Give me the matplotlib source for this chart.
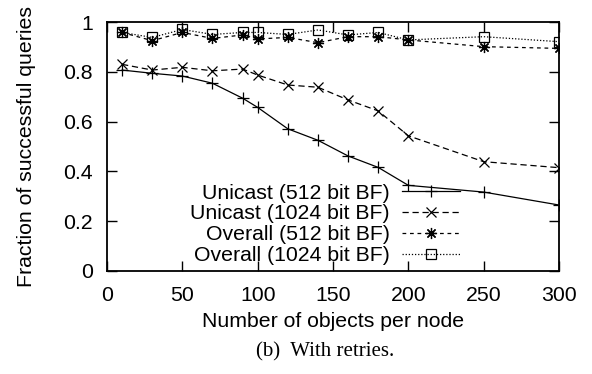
import matplotlib
matplotlib.use("Agg")
import matplotlib.pyplot as plt

# objects per node
objects = [10, 30, 50, 70, 90, 100, 120, 140, 160, 180, 200, 250, 300]

# fraction of successful queries
unicast_512 = [0.807, 0.794, 0.783, 0.754, 0.694, 0.657, 0.571, 0.525, 0.462, 0.416, 0.344, 0.317, 0.265]
unicast_1024 = [0.830, 0.807, 0.818, 0.804, 0.811, 0.787, 0.747, 0.738, 0.687, 0.643, 0.543, 0.439, 0.415]
overall_512 = [0.958, 0.925, 0.958, 0.934, 0.948, 0.932, 0.938, 0.917, 0.941, 0.941, 0.928, 0.901, 0.894]
overall_1024 = [0.958, 0.938, 0.970, 0.950, 0.958, 0.958, 0.950, 0.968, 0.948, 0.958, 0.928, 0.941, 0.921]

labels = ["Unicast (512 bit BF)", "Unicast (1024 bit BF)",
          "Overall (512 bit BF)", "Overall (1024 bit BF)"]
xticks = [0, 50, 100, 150, 200, 250, 300]
yticks = [0, 0.2, 0.4, 0.6, 0.8, 1]
yticklabels = ["0", "0.2", "0.4", "0.6", "0.8", "1"]

plt.rcParams['font.family'] = ['Liberation Sans', 'DejaVu Sans']
fs = 15.3

fig = plt.figure(figsize=(5.92, 3.74), dpi=100)
ax = fig.add_axes([107/592, 103/374, 452/592, 249/374])

ax.plot(objects, unicast_512, color="black", lw=0.9, ls="-",
        marker="+", ms=9, mew=0.9, label=labels[0])
ax.plot(objects, unicast_1024, color="black", lw=0.9, ls=(0, (5, 3)),
        marker="x", ms=7, mew=0.9, label=labels[1])
ax.plot(objects, overall_512, color="black", lw=0.9, ls=(0, (3, 3)),
        marker=(8, 2, 0), ms=8, mew=0.9, label=labels[2])
ax.plot(objects, overall_1024, color="black", lw=0.9, ls=(0, (1, 1.5)),
        marker="s", ms=7, mew=0.9, mfc="none", label=labels[3])

ax.set_xlim(0, 300)
ax.set_ylim(0, 1)
ax.set_xticks(xticks)
ax.set_yticks(yticks)
ax.set_yticklabels(yticklabels)
ax.tick_params(direction="in", length=7, width=1, labelsize=fs,
               top=True, right=True, color="black")
ax.tick_params(axis="y", pad=10)
ax.tick_params(axis="x", pad=11)
for sp in ax.spines.values():
    sp.set_linewidth(1.3)

ax.set_xlabel("Number of objects per node", fontsize=fs, labelpad=5)
ax.set_ylabel("Fraction of successful queries", fontsize=fs, labelpad=20)

ax.legend(loc="lower right", bbox_to_anchor=(0.781, 0.023), frameon=False,
          fontsize=fs, markerfirst=False, handlelength=2.73,
          handletextpad=0.56, labelspacing=0.09, borderpad=0,
          borderaxespad=0)

fig.text(325/592, 1 - 352/374, "(b)  With retries.", family="Liberation Serif",
         fontsize=15, ha="center", va="center")

fig.savefig("out.png", dpi=100)
